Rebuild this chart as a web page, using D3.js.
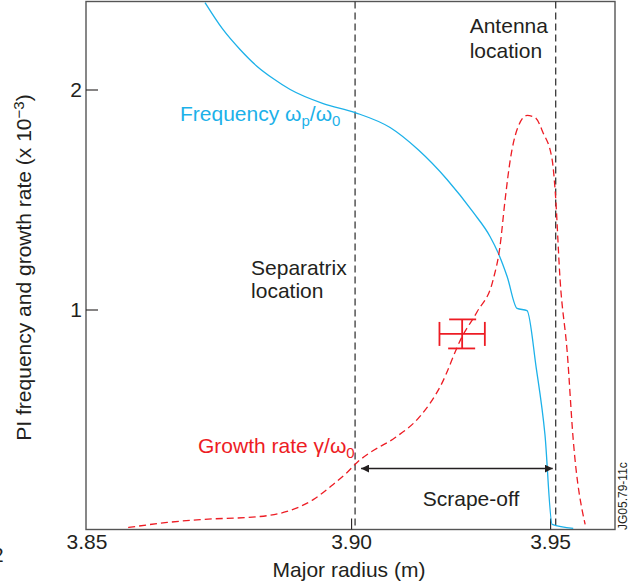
<!DOCTYPE html>
<html>
<head>
<meta charset="utf-8">
<script src="https://cdn.jsdelivr.net/npm/d3@7"></script>
<style>
  body { margin: 0; background: #fff; }
  svg text { font-family: "Liberation Sans", Arial, Helvetica, sans-serif; fill: #231f20; }
</style>
</head>
<body>
<div id="chart"></div>
<script>

// Frequency omega_p/omega_0 (x 10^-3) against major radius (m)
var freqR   = [3.8633, 3.8678, 3.8721, 3.8764, 3.8804, 3.8847, 3.8930, 3.9010, 3.9098, 3.9168,
               3.9241, 3.9307, 3.9349, 3.9369, 3.9392, 3.9417, 3.9442, 3.9465, 3.9487, 3.9505, 3.9558];
var freqVal = [2.395, 2.273, 2.182, 2.105, 2.050, 2.000, 1.936, 1.895, 1.827, 1.727,
               1.591, 1.441, 1.332, 1.259, 1.150, 1.005, 0.995, 0.736, 0.432, 0.023, 0.005];

// Growth rate gamma/omega_0 (x 10^-3)
var growthR   = [3.8440, 3.8538, 3.8621, 3.8771, 3.8839, 3.8905, 3.8955, 3.8990, 3.9015, 3.9048,
                 3.9111, 3.9173, 3.9224, 3.9279, 3.9317, 3.9357, 3.9374, 3.9387, 3.9400, 3.9417,
                 3.9442, 3.9462, 3.9482, 3.9505, 3.9513, 3.9525, 3.9543, 3.9558, 3.9588];
var growthVal = [0.009, 0.032, 0.045, 0.059, 0.082, 0.136, 0.205, 0.259, 0.305, 0.350,
                 0.418, 0.514, 0.650, 0.877, 0.991, 1.136, 1.286, 1.500, 1.682, 1.818,
                 1.882, 1.873, 1.805, 1.682, 1.532, 1.136, 0.805, 0.409, 0.023];

// measured point with error bars: [R, value, dR, dValue]
var measured = [3.9279, 0.889, 0.0057, 0.066];

var separatrixR = 3.901;
var antennaR = 3.9514;
var scrapeArrowY = 0.277;

var xTicks = [3.90, 3.95];
var yTicks = [1, 2];
var cornerLabel = "3.85";

var width = 638, height = 588;
var red = "#ed1c24", blue = "#1cb1e9";

var svg = d3.select("#chart").append("svg")
    .attr("width", width)
    .attr("height", height);

var x = d3.scaleLinear().domain([3.8334, 3.9663]).range([86, 615]);
var y = d3.scaleLinear().domain([0, 2.4]).range([529.5, 1.5]);

//frame round the plot
svg.append("rect")
    .attr("x", x.range()[0])
    .attr("y", y.range()[1])
    .attr("width", x.range()[1] - x.range()[0])
    .attr("height", y.range()[0] - y.range()[1])
    .attr("fill", "none")
    .attr("stroke", "#555")
    .attr("stroke-width", 1.4);

//axes, ticks pointing inwards
var gy = svg.append("g")
    .attr("transform", "translate(" + x.range()[0] + ",0)")
    .call(d3.axisLeft(y).tickValues(yTicks).tickSizeInner(-12).tickSizeOuter(0).tickPadding(4).tickFormat(d3.format("d")));
var gx = svg.append("g")
    .attr("transform", "translate(0," + y.range()[0] + ")")
    .call(d3.axisBottom(x).tickValues(xTicks).tickSizeInner(-11).tickSizeOuter(0).tickPadding(5).tickFormat(d3.format(".2f")));
[gx, gy].forEach(function(g){
  g.select(".domain").remove();
  g.selectAll("line").attr("stroke", "#231f20").attr("stroke-width", 1.1);
  g.selectAll("text").attr("font-size", 21).attr("font-family", null).style("fill", "#231f20");
});

svg.append("text")
    .attr("x", x.range()[0] + 1)
    .attr("y", 549)
    .attr("text-anchor", "middle")
    .attr("font-size", 21)
    .text(cornerLabel);

// stray character at the lower left of the original
svg.append("text")
    .attr("x", -8)
    .attr("y", 562)
    .attr("font-size", 21)
    .text("2");

//vertical dashed location lines
[separatrixR, antennaR].forEach(function(r){
  svg.append("line")
      .attr("x1", x(r)).attr("x2", x(r))
      .attr("y1", y.range()[1]).attr("y2", y.range()[0])
      .attr("stroke", "#3a3a3a")
      .attr("stroke-width", 1.3)
      .attr("stroke-dasharray", "7,4");
});

//curves
var freqData = freqR.map(function(r, i){ return [r, freqVal[i]]; });
var growthData = growthR.map(function(r, i){ return [r, growthVal[i]]; });

var line = d3.line()
    .x(function(d){ return x(d[0]); })
    .y(function(d){ return y(d[1]); })
    .curve(d3.curveMonotoneX);

svg.append("path")
    .datum(freqData)
    .attr("d", line)
    .attr("fill", "none")
    .attr("stroke", blue)
    .attr("stroke-width", 1.3);

svg.append("path")
    .datum(growthData)
    .attr("d", line)
    .attr("fill", "none")
    .attr("stroke", red)
    .attr("stroke-width", 1.3)
    .attr("stroke-dasharray", "7,4");

//error bars on the measured point
var cx = x(measured[0]), cy = y(measured[1]);
var x0 = x(measured[0] - measured[2]), x1 = x(measured[0] + measured[2]);
var y0 = y(measured[1] + measured[3]), y1 = y(measured[1] - measured[3]);
var eb = svg.append("g").attr("stroke", red).attr("stroke-width", 1.8);
eb.append("line").attr("x1", x0).attr("x2", x1).attr("y1", cy).attr("y2", cy);
eb.append("line").attr("x1", cx).attr("x2", cx).attr("y1", y0).attr("y2", y1);
eb.append("line").attr("x1", x0).attr("x2", x0).attr("y1", cy - 12).attr("y2", cy + 12);
eb.append("line").attr("x1", x1).attr("x2", x1).attr("y1", cy - 12).attr("y2", cy + 12);
eb.append("line").attr("x1", cx - 13).attr("x2", cx + 14).attr("y1", y0).attr("y2", y0);
eb.append("line").attr("x1", cx - 14).attr("x2", cx + 13).attr("y1", y1).attr("y2", y1);

//scrape-off double arrow
var defs = svg.append("defs");
defs.append("marker")
    .attr("id", "head")
    .attr("viewBox", "0 0 10 10")
    .attr("refX", 10).attr("refY", 5)
    .attr("markerWidth", 8).attr("markerHeight", 8)
    .attr("markerUnits", "userSpaceOnUse")
    .attr("orient", "auto-start-reverse")
    .append("path")
    .attr("d", "M0,0L10,5L0,10Z")
    .attr("fill", "#231f20");

svg.append("line")
    .attr("x1", x(separatrixR) + 6)
    .attr("x2", x(antennaR) - 3)
    .attr("y1", y(scrapeArrowY))
    .attr("y2", y(scrapeArrowY))
    .attr("stroke", "#231f20")
    .attr("stroke-width", 1.4)
    .attr("marker-start", "url(#head)")
    .attr("marker-end", "url(#head)");

//annotations
function addText(tx, ty, str, anchor){
  return svg.append("text")
      .attr("x", tx).attr("y", ty)
      .attr("text-anchor", anchor || "start")
      .attr("font-size", 21)
      .text(str);
}
addText(x(separatrixR) - 104, 275, "Separatrix");
addText(x(separatrixR) - 104, 298, "location");
addText(x(antennaR) - 86, 33, "Antenna");
addText(x(antennaR) - 86, 58, "location");
addText(471, 506, "Scrape-off", "middle");
addText(349, 577, "Major radius (m)", "middle");

var ft = addText(180, 121, "Frequency ω").style("fill", blue);
ft.append("tspan").attr("dy", 5).attr("font-size", 15).text("p");
ft.append("tspan").attr("dy", -5).text("/ω");
ft.append("tspan").attr("dy", 5).attr("font-size", 15).text("0");

var gt = addText(198, 453, "Growth rate γ/ω").style("fill", red);
gt.append("tspan").attr("dy", 5).attr("font-size", 15).text("0");

var yl = svg.append("text")
    .attr("transform", "translate(31,267.5) rotate(-90)")
    .attr("text-anchor", "middle")
    .attr("font-size", 21)
    .text("PI frequency and growth rate (x 10");
yl.append("tspan").attr("dy", -7).attr("font-size", 15).text("−3");
yl.append("tspan").attr("dy", 7).text(")");

svg.append("text")
    .attr("transform", "translate(627,530) rotate(-90)")
    .attr("font-size", 12)
    .text("JG05.79-11c");

</script>
</body>
</html>
